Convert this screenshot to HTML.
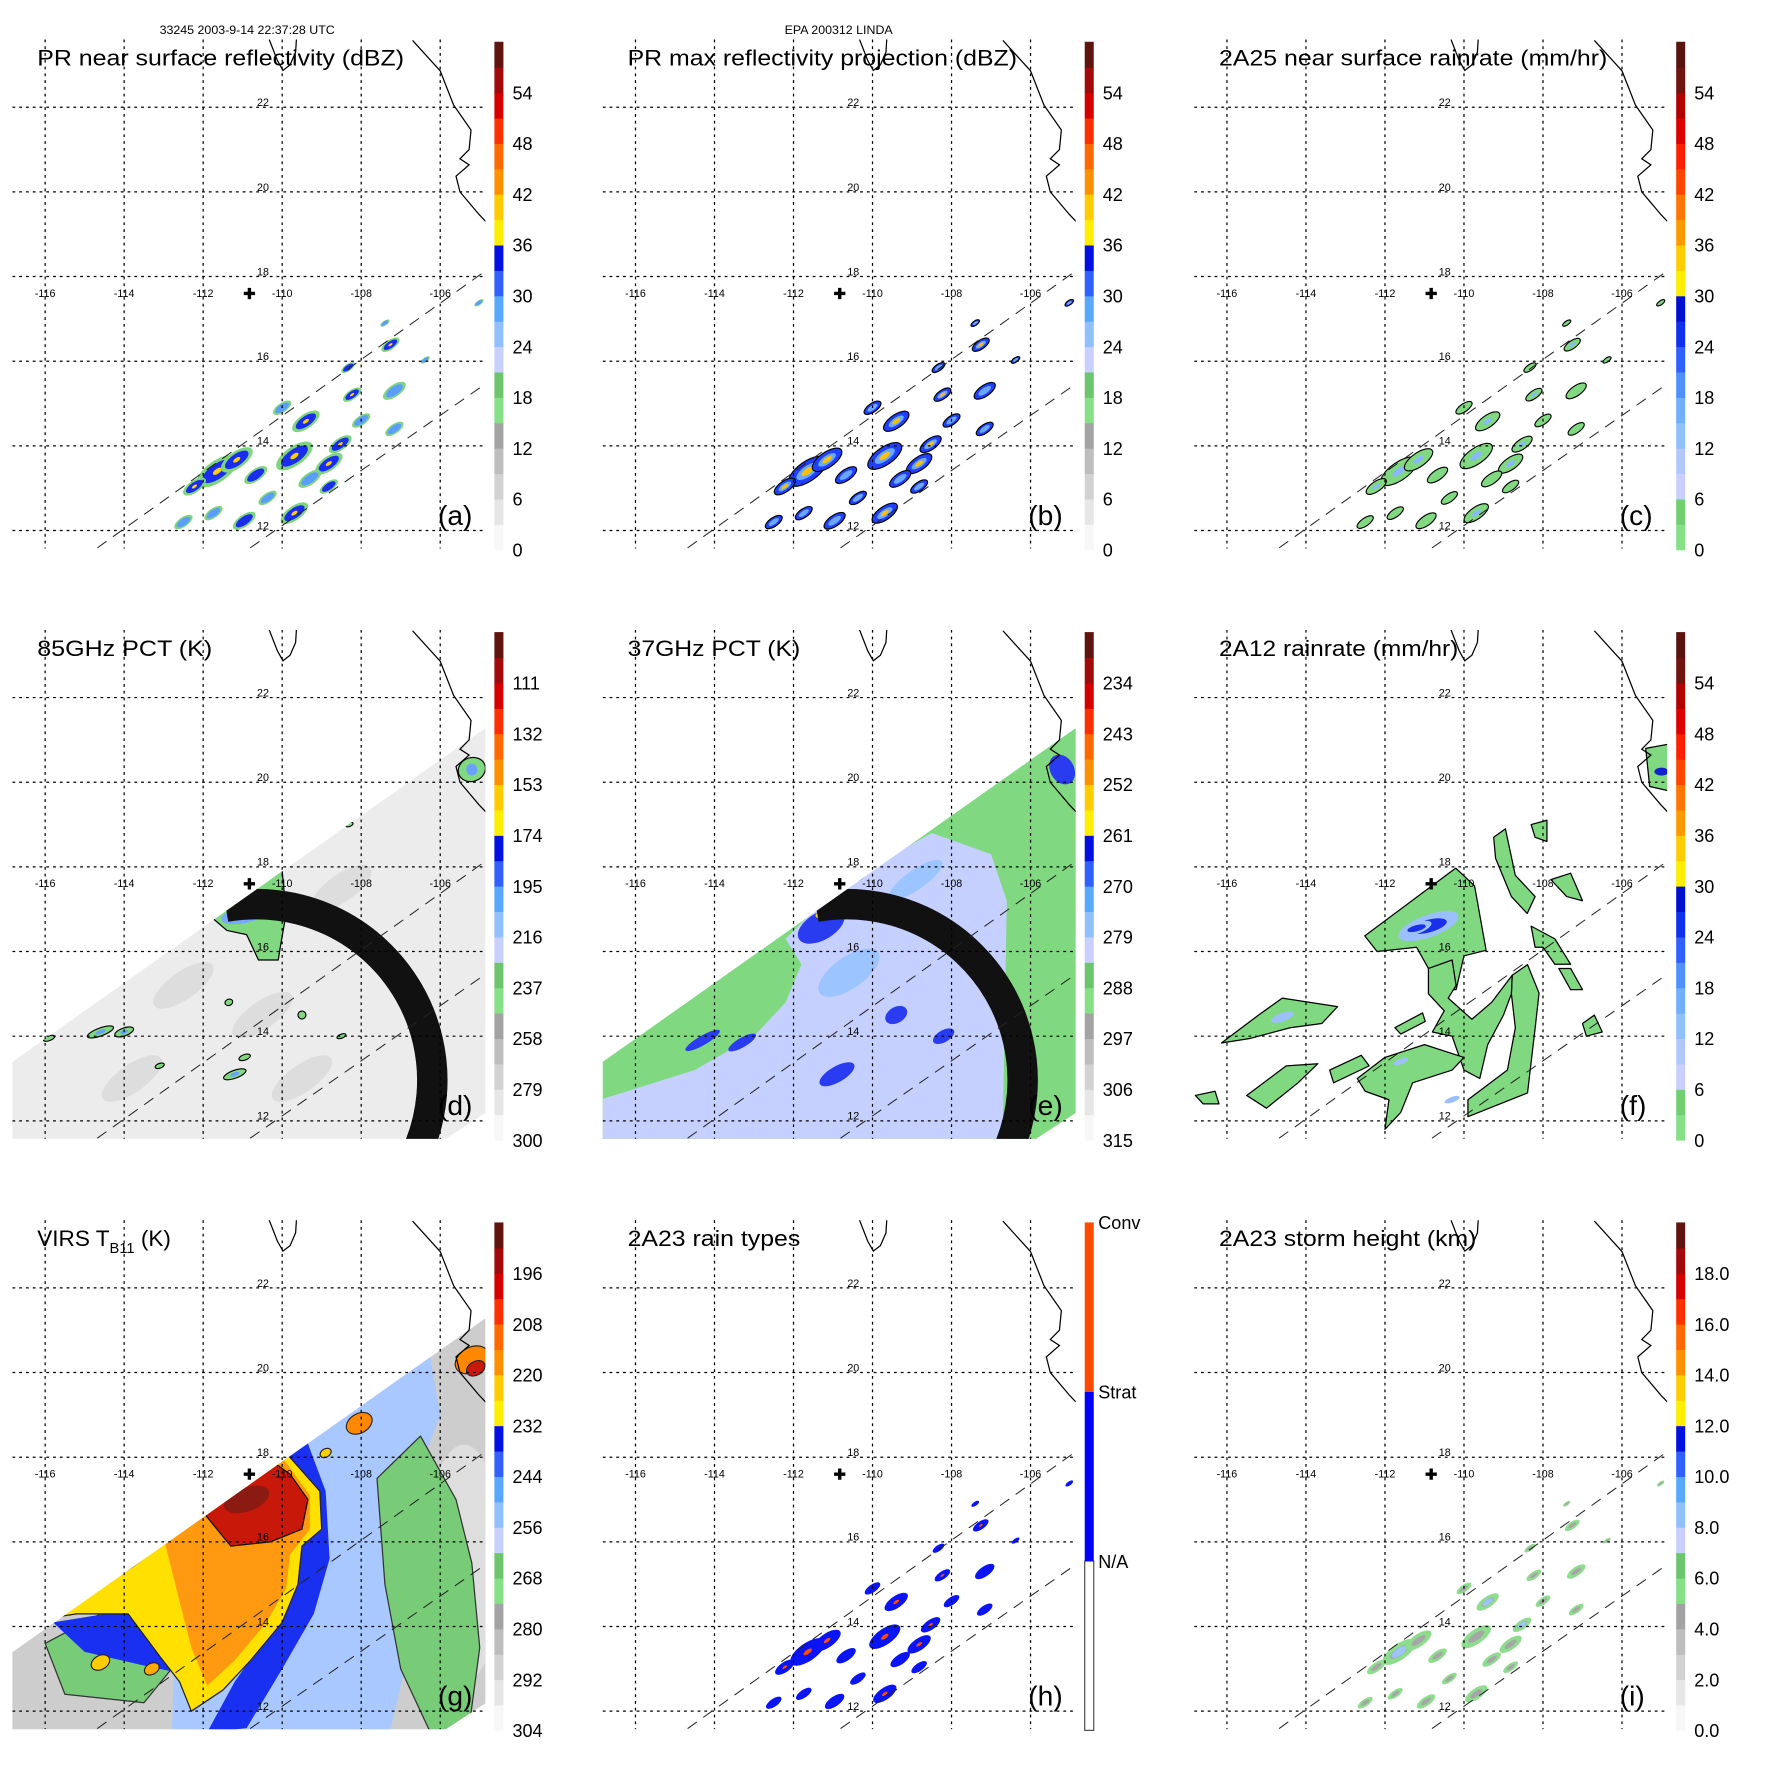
<!DOCTYPE html>
<html><head><meta charset="utf-8"><title>TRMM LINDA</title>
<style>html,body{margin:0;padding:0;background:#fff;}svg{display:block;font-family:"Liberation Sans",sans-serif;}</style>
</head><body>
<svg id="fig" width="1771" height="1771" viewBox="0 0 1569 1569" xmlns="http://www.w3.org/2000/svg">
<rect x="0" y="0" width="1569" height="1569" fill="#fff"/>
<defs>
<clipPath id="mapclip"><rect x="11" y="35" width="419" height="451"/></clipPath>
<clipPath id="swathclip"><polygon id="swathpoly" points=""/></clipPath>
</defs>
<text x="219" y="30" font-size="11" text-anchor="middle">33245 2003-9-14 22:37:28 UTC</text>
<text x="743" y="30" font-size="11" text-anchor="middle">EPA 200312 LINDA</text>
</svg>
<script>
const NS='http://www.w3.org/2000/svg';
const svg=document.getElementById('fig');
// ---------- data ----------
const lonTicks=[-116,-114,-112,-110,-108,-106];
const latTicks=[22,20,18,16,14,12];
const stormLon=-110.83, stormLat=17.6;
const coastLon=[-106.7,-106.0,-105.66,-105.22,-105.27,-105.5,-105.27,-105.6,-105.5,-105.02,-104.85];
const coastLat=[23.58,22.86,22.05,21.46,21.0,20.78,20.64,20.37,20.0,19.47,19.3];
const bajaLon=[-110.33,-110.12,-109.98,-109.8,-109.66,-109.64];
const bajaLat=[23.6,23.1,22.87,23.0,23.3,23.6];
const prEdge1Lon=[-114.68,-104.83], prEdge1Lat=[11.59,18.15];
const prEdge2Lon=[-110.81,-104.83], prEdge2Lat=[11.59,15.48];
const swathLon=[-116.9,-104.83,-104.83,-105.9,-116.9];
const swathLat=[13.35,21.3,12.2,11.55,11.55];
const cellLon=[-111.64,-111.15,-112.22,-110.67,-111.74,-110.96,-109.69,-109.40,-109.69,-108.53,-108.82,-109.30,-108.23,-108.33,-107.26,-107.16,-107.16,-108.82,-105.02,-106.38,-110.37,-112.5,-110.0,-108.0,-107.4];
const cellLat=[13.40,13.67,13.04,13.31,12.41,12.23,12.41,14.58,13.76,14.04,13.58,13.22,15.21,15.85,16.39,15.30,14.40,13.04,17.38,16.03,12.77,12.2,14.9,14.6,16.9];
const cellSize=[0.45,0.35,0.25,0.25,0.2,0.25,0.3,0.3,0.4,0.25,0.3,0.25,0.2,0.15,0.2,0.25,0.2,0.2,0.1,0.1,0.2,0.2,0.2,0.2,0.1];
const cellInt=[0.9,0.8,0.7,0.6,0.4,0.6,0.7,0.9,0.7,0.9,0.7,0.5,0.7,0.6,0.8,0.4,0.3,0.6,0.5,0.5,0.4,0.3,0.3,0.3,0.5];
const palStd=['#f7f7f7','#e6e6e6','#d2d2d2','#bdbdbd','#a3a3a3','#86e086','#6cc46c','#c8d0ff','#90c0ff','#58a8ff','#3060ff','#0010e0','#ffee00','#ffcc00','#ff9000','#ff6a00','#ff3000','#d40000','#a00a0a','#601410'];
const palRain=['#86e086','#70d070','#c8d0ff','#b0c8ff','#90c0ff','#70b0ff','#4f90ff','#3060ff','#1030f0','#0010d0','#ffee00','#ffcc00','#ff9900','#ff7700','#ff4400','#ff2000','#dd0000','#b00000','#701410','#5a1410'];
const labA=['0','6','12','18','24','30','36','42','48','54'];
const labD=['300','279','258','237','216','195','174','153','132','111'];
const labE=['315','306','297','288','279','270','261','252','243','234'];
const labG=['304','292','280','268','256','244','232','220','208','196'];
const labI=['0.0','2.0','4.0','6.0','8.0','10.0','12.0','14.0','16.0','18.0'];
const rainTypeLabels=['N/A','Strat','Conv'];
const rainTypeColors=['#ffffff','#0000ff','#ff4a00'];
const dGreenLon=[-111.9,-111.0,-110.4,-110.0,-109.9,-110.05,-110.1,-110.6,-110.9,-111.4];
const dGreenLat=[16.9,17.3,17.9,17.9,16.9,16.1,15.8,15.8,16.4,16.5];
const dBlobLon=[-114.6,-114.0,-115.9,-111.35,-109.5,-108.5,-111.2,-110.95,-113.1,-105.2,-108.3];
const dBlobLat=[14.1,14.1,13.95,14.8,14.5,14.0,13.1,13.5,13.3,20.3,19.0];
const dBlobRx=[0.35,0.25,0.15,0.1,0.1,0.12,0.3,0.15,0.12,0.35,0.1];
const dBlobRy=[0.1,0.1,0.06,0.08,0.1,0.05,0.1,0.07,0.06,0.3,0.05];
const dShadeLon=[-112.5,-109.5,-108.5,-113.8,-110.5];
const dShadeLat=[15.2,13.0,17.5,13.0,14.5];
const eLtLon=[-112.2,-110.8,-108.5,-107.0,-106.6,-106.7,-106.5,-116.9,-116.9,-114.5,-113.0,-112.2,-111.8];
const eLtLat=[16.3,17.6,18.8,18.3,17.2,12.0,11.5,11.5,12.5,13.2,14.0,14.8,15.7];
const eBlueLon=[-111.3,-114.3,-113.3,-110.9,-109.4,-108.2,-108.7,-110.4,-105.2];
const eBlueLat=[16.6,13.9,13.85,13.1,14.5,14.0,16.8,17.8,20.3];
const eBlueRx=[0.65,0.5,0.4,0.5,0.3,0.3,0.3,0.3,0.3];
const eBlueRy=[0.35,0.12,0.12,0.2,0.2,0.15,0.15,0.15,0.4];
const fPolys=[
 [-112.51,16.37,-110.21,17.97,-109.73,17.55,-109.44,16.03,-110.0,15.9,-110.2,15.1,-110.6,15.1,-110.9,15.6,-111.2,16.1,-112.2,16.0],
 [-108.78,15.44,-108.39,15.69,-108.1,15.02,-108.2,14.18,-108.39,12.66,-109.9,12.1,-109.9,12.5,-108.9,13.2,-108.7,14.2,-108.8,15.0],
 [-110.9,15.6,-110.3,15.8,-110.2,15.2,-110.4,14.9,-109.8,14.4,-109.3,14.8,-108.78,15.44,-108.8,15.0,-109.0,14.5,-109.4,13.8,-109.6,13.0,-110.0,13.2,-110.3,14.0,-110.8,14.1,-110.5,14.6,-110.9,15.0],
 [-112.7,13.0,-112.0,13.5,-111.0,13.8,-110.0,13.5,-110.3,13.2,-111.3,12.9,-111.6,12.2,-112.0,11.8,-111.9,12.5,-112.5,12.7],
 [-113.4,13.2,-112.6,13.55,-112.4,13.3,-113.3,12.9],
 [-115.5,12.6,-114.5,13.3,-113.7,13.35,-114.2,12.9,-115.0,12.3],
 [-116.14,13.84,-115.2,14.5,-114.6,14.9,-113.2,14.7,-113.6,14.3,-114.4,14.2,-115.4,13.95],
 [-111.75,14.2,-111.05,14.55,-110.98,14.35,-111.6,14.05],
 [-109.25,18.7,-108.95,18.9,-108.7,17.8,-108.2,17.3,-108.4,16.9,-108.8,17.3,-109.2,18.2],
 [-108.3,16.6,-107.7,16.3,-107.3,15.7,-107.7,15.7,-108.0,16.1,-108.2,16.1],
 [-107.8,17.7,-107.3,17.85,-107.0,17.2,-107.4,17.3],
 [-107.6,15.6,-107.3,15.6,-107.0,15.1,-107.3,15.1],
 [-116.8,12.6,-116.3,12.7,-116.2,12.4,-116.6,12.4],
 [-108.3,19.0,-107.9,19.1,-107.9,18.6,-108.2,18.7],
 [-107.0,14.3,-106.7,14.5,-106.5,14.1,-106.9,14.0],
 [-105.4,20.8,-104.83,20.9,-104.83,19.8,-105.3,19.9]
];
const fBlueLon=[-110.9,-111.2,-114.6,-111.6,-110.3];
const fBlueLat=[16.6,16.55,14.45,13.4,12.5];
const fBlueRx=[0.8,0.4,0.3,0.2,0.2];
const gLtBlueLon=[-112.6,-106.3,-106.0,-106.6,-106.9,-107.0,-106.9,-107.3,-112.8];
const gLtBlueLat=[16.4,20.6,19.0,17.5,16.0,14.5,13.0,11.4,11.4];
const gGreenLon=[-107.6,-106.5,-105.6,-105.2,-105.0,-105.3,-106.2,-107.0,-107.4];
const gGreenLat=[17.5,18.5,17.0,15.5,13.5,11.4,11.4,13.0,15.0];
const gGreen2Lon=[-116.0,-114.0,-112.8,-113.5,-115.5];
const gGreen2Lat=[13.6,14.6,13.0,12.2,12.4];
const gDkBlueLon=[-110.2,-109.5,-108.9,-108.8,-109.2,-110.0,-110.9,-111.9,-111.2,-110.3,-109.8,-109.6,-109.3];
const gDkBlueLat=[18.3,18.7,17.2,15.6,14.3,13.0,11.6,11.5,12.7,13.9,15.0,16.0,17.1];
const gBlue2Lon=[-115.8,-113.8,-112.9,-112.6,-113.6,-115.0];
const gBlue2Lat=[14.1,14.4,13.8,12.9,13.1,13.4];
const gYelLon=[-113.8,-109.9,-109.05,-109.0,-109.5,-109.6,-110.0,-110.8,-111.5,-112.3,-112.6,-113.1,-113.9,-115.2,-115.9];
const gYelLat=[15.4,18.1,17.2,16.3,15.9,15.0,14.1,13.2,12.5,12.0,12.7,13.3,14.3,14.3,14.2];
const gOrgLon=[-113.0,-110.0,-109.3,-109.3,-109.8,-109.9,-110.4,-111.2,-111.9,-112.3,-112.6];
const gOrgLat=[16.1,18.0,17.1,16.3,15.7,14.9,14.1,13.2,12.6,13.5,14.6];
const gRedLon=[-112.0,-110.4,-109.8,-109.35,-109.5,-110.3,-111.3];
const gRedLat=[16.7,18.0,17.6,17.0,16.3,16.0,15.9];
const gSpotLon=[-108.05,-108.9,-105.2,-105.1,-114.6,-113.3];
const gSpotLat=[18.8,18.1,20.3,20.1,13.15,13.0];
const gSpotR=[0.35,0.15,0.45,0.25,0.25,0.2];
const gSpotC=['#ff8800','#ffcc00','#ff8800','#c81a0a','#ffcc00','#ffaa00'];

const px=lon=>40+35*(lon+116);
const py=lat=>95+37.5*(22-lat);
function mk(tag,attrs,parent){const e=document.createElementNS(NS,tag);for(const k in attrs)e.setAttribute(k,attrs[k]);parent.appendChild(e);return e;}
function ptsOf(lons,lats){return lons.map((l,i)=>px(l).toFixed(1)+','+py(lats[i]).toFixed(1)).join(' ');}
function ptsFlat(a){let s=[];for(let i=0;i<a.length;i+=2)s.push(px(a[i]).toFixed(1)+','+py(a[i+1]).toFixed(1));return s.join(' ');}
document.getElementById('swathpoly').setAttribute('points',ptsOf(swathLon,swathLat));

const colX=[0,523,1047], rowY=[0,523,1046];
const panels=[
 {id:'a',title:'PR near surface reflectivity (dBZ)',tl:325},
 {id:'b',title:'PR max reflectivity projection (dBZ)',tl:345},
 {id:'c',title:'2A25 near surface rainrate (mm/hr)',tl:344},
 {id:'d',title:'85GHz PCT (K)',tl:155},
 {id:'e',title:'37GHz PCT (K)',tl:153},
 {id:'f',title:'2A12 rainrate (mm/hr)',tl:212},
 {id:'g',title:null,tl:0},
 {id:'h',title:'2A23 rain types',tl:153},
 {id:'i',title:'2A23 storm height (km)',tl:228}
];

function ell(g,lon,lat,rx,ry,ang,fill,stroke,name){
  const e=mk('ellipse',{cx:px(lon),cy:py(lat),rx:rx*35,ry:ry*35,fill:fill,transform:'rotate('+ang+' '+px(lon)+' '+py(lat)+')'},g);
  if(stroke){e.setAttribute('stroke',stroke);e.setAttribute('stroke-width','1');}
  
  
  return e;
}
function poly(g,pts,fill,stroke,name){
  const e=mk('polygon',{points:pts,fill:fill},g);
  if(stroke){e.setAttribute('stroke',stroke);e.setAttribute('stroke-width','1.1');e.setAttribute('stroke-linejoin','round');}
  
  
  return e;
}
function colorbar(g,colors,labels,name){
  const cb=mk('g',{},g);
  
  
  const top=37,bot=487,n=colors.length,h=(bot-top)/n;
  colors.forEach((c,i)=>{
    const r=mk('rect',{x:438,y:(bot-(i+1)*h).toFixed(2),width:8,height:(h+0.5).toFixed(2),fill:c},cb);
    
    
  });
  labels.forEach((t,k)=>{
    const y=bot-k*2*h;
    const tx=mk('text',{x:454,y:(y+6).toFixed(1),'font-size':16},cb);
    tx.textContent=t;
    
    
  });
}

panels.forEach((p,pi)=>{
  const G=mk('g',{transform:'translate('+colX[pi%3]+','+rowY[Math.floor(pi/3)]+')'},svg);
  
  
  const M=mk('g',{'clip-path':'url(#mapclip)'},G);
  
  
  const D=mk('g',{},M);
  
  

  if(p.id==='a'){
    cellLon.forEach((l,i)=>{
      ell(D,l,cellLat[i],cellSize[i]*1.35,cellSize[i]*0.6,-35,'#7fd47f',null,'rain-halo');
      ell(D,l,cellLat[i],cellSize[i],cellSize[i]*0.42,-35,cellInt[i]>0.5?'#1a2cf0':'#5a9cff',null,'rain-cell');
      if(cellInt[i]>0.6) ell(D,l,cellLat[i],cellSize[i]*0.3,cellSize[i]*0.14,-35,'#ffd000',null,'rain-core');
    });
  } else if(p.id==='b'){
    cellLon.forEach((l,i)=>{
      ell(D,l,cellLat[i],cellSize[i]*1.25,cellSize[i]*0.55,-35,'#2040ff','#000','echo-cell');
      ell(D,l,cellLat[i],cellSize[i]*0.75,cellSize[i]*0.3,-35,'#6aa8ff',null,'echo-inner');
      if(cellInt[i]>0.65) ell(D,l,cellLat[i],cellSize[i]*0.4,cellSize[i]*0.16,-35,'#ffc000',null,'echo-core');
    });
  } else if(p.id==='c'){
    cellLon.forEach((l,i)=>{
      ell(D,l,cellLat[i],cellSize[i]*1.2,cellSize[i]*0.5,-35,'#80d880','#000','rainrate-cell');
      if(cellInt[i]>0.6) ell(D,l,cellLat[i],cellSize[i]*0.45,cellSize[i]*0.18,-35,'#8ab8ff',null,'rainrate-core');
    });
  } else if(p.id==='h'){
    cellLon.forEach((l,i)=>{
      ell(D,l,cellLat[i],cellSize[i]*1.15,cellSize[i]*0.5,-35,'#0a14f5',null,'raintype-cell');
      if(cellInt[i]>0.6) ell(D,l,cellLat[i],cellSize[i]*0.28,cellSize[i]*0.12,-35,'#ff4a00',null,'convective-spot');
    });
  } else if(p.id==='i'){
    cellLon.forEach((l,i)=>{
      ell(D,l,cellLat[i],cellSize[i]*1.1,cellSize[i]*0.45,-35,'#8edc8e',null,'height-cell');
      ell(D,l,cellLat[i],cellSize[i]*0.6,cellSize[i]*0.22,-35,'#a6a6a6',null,'height-low');
      if(cellInt[i]>0.8) ell(D,l,cellLat[i],cellSize[i]*0.5,cellSize[i]*0.2,-35,'#9cc4ff',null,'height-high');
    });
  } else if(p.id==='d' || p.id==='e' || p.id==='g'){
    const S=mk('g',{'clip-path':'url(#swathclip)'},D);
    
    
    if(p.id==='d'){
      poly(S,ptsOf(swathLon,swathLat),'#ececec',null,'swath-background');
      dShadeLon.forEach((l,i)=>ell(S,l,dShadeLat[i],0.9,0.35,-35,'#dddddd',null,'pct-shade'));
      poly(S,ptsOf(dGreenLon,dGreenLat),'#80d880','#000','pct-cell-main');
      ell(S,-111.0,16.85,0.55,0.2,-10,'#78a8ff',null,'pct-scatter');
      ell(S,-111.1,16.9,0.3,0.1,-10,'#2040ff',null,'pct-scatter-core');
      ell(S,-111.05,16.95,0.12,0.06,0,'#ff6a00',null,'pct-min');
      dBlobLon.forEach((l,i)=>{
        ell(S,l,dBlobLat[i],dBlobRx[i],dBlobRy[i],-20,'#80d880','#000','pct-cell');
        if(dBlobRx[i]>0.2) ell(S,l,dBlobLat[i],dBlobRx[i]*0.4,dBlobRy[i]*0.5,-20,'#6aa0ff',null,'pct-cell-core');
      });
    } else if(p.id==='e'){
      poly(S,ptsOf(swathLon,swathLat),'#80d880',null,'swath-background');
      poly(S,ptsOf(eLtLon,eLtLat),'#c6d0ff',null,'pct-light-region');
      ell(S,-110.6,15.5,0.9,0.4,-35,'#9cc4ff',null,'pct-mid-region');
      ell(S,-108.9,17.7,0.8,0.25,-35,'#9cc4ff',null,'pct-mid-region');
      eBlueLon.forEach((l,i)=>ell(S,l,eBlueLat[i],eBlueRx[i],eBlueRy[i],-30,'#2a3cf0',null,'pct-blue-cell'));
      ell(S,-111.1,16.9,0.35,0.12,-10,'#ffdd00',null,'pct-yellow');
      ell(S,-111.05,16.92,0.18,0.07,-10,'#ff5000',null,'pct-red');
    } else {
      poly(S,ptsOf(swathLon,swathLat),'#cdcdcd',null,'swath-background');
      ell(S,-105.4,15.5,1.0,3.0,0,'#dedede',null,'warm-region');
      poly(S,ptsOf(gLtBlueLon,gLtBlueLat),'#a8c8ff',null,'tb-lightblue');
      poly(S,ptsOf(gGreenLon,gGreenLat),'#78cc78','#333','tb-green');
      poly(S,ptsOf(gGreen2Lon,gGreen2Lat),'#78cc78','#333','tb-green-left');
      poly(S,ptsOf(gDkBlueLon,gDkBlueLat),'#1a30f0',null,'tb-blue');
      poly(S,ptsOf(gBlue2Lon,gBlue2Lat),'#1a30f0',null,'tb-blue-left');
      poly(S,ptsOf(gYelLon,gYelLat),'#ffe000','#222','tb-yellow');
      poly(S,ptsOf(gOrgLon,gOrgLat),'#ff9a10',null,'tb-orange');
      poly(S,ptsOf(gRedLon,gRedLat),'#c8180a','#111','tb-red-core');
      ell(S,-110.9,17.0,0.6,0.3,-20,'#8a1a12',null,'tb-coldest');
      gSpotLon.forEach((l,i)=>ell(S,l,gSpotLat[i],gSpotR[i],gSpotR[i]*0.7,-30,gSpotC[i],'#222','tb-spot'));
    }
    if(p.id!=='g'){
      const cx=227,cy=434,r=156;
      const a0=-100*Math.PI/180,a1=40*Math.PI/180;
      const arc=mk('path',{d:'M'+(cx+r*Math.cos(a0))+','+(cy+r*Math.sin(a0))+' A'+r+','+r+' 0 0 1 '+(cx+r*Math.cos(a1))+','+(cy+r*Math.sin(a1)),fill:'none',stroke:'#111','stroke-width':27},S);
      
      
    }
  } else if(p.id==='f'){
    fPolys.forEach(a=>poly(D,ptsFlat(a),'#80d880','#000','rainrate-region'));
    fBlueLon.forEach((l,i)=>{
      ell(D,l,fBlueLat[i],fBlueRx[i],fBlueRx[i]*0.35,-20,'#9cc0ff',null,'rainrate-moderate');
      if(i<2) ell(D,l,fBlueLat[i],fBlueRx[i]*0.6,fBlueRx[i]*0.2,-15,'#1a30e8',null,'rainrate-heavy');
    });
    ell(D,-105.0,20.25,0.18,0.1,0,'#1020d0',null,'rainrate-coast');
  }

  const GR=mk('g',{stroke:'#000','stroke-width':1.1,'stroke-dasharray':'2.5 3.5'},M);
  
  
  lonTicks.forEach(l=>{
    const ln=mk('line',{x1:px(l),x2:px(l),y1:35,y2:486},GR);
    
    
  });
  latTicks.forEach(l=>{
    const ln=mk('line',{x1:11,x2:430,y1:py(l),y2:py(l)},GR);
    
    
  });
  [[prEdge1Lon,prEdge1Lat],[prEdge2Lon,prEdge2Lat]].forEach(e=>{
    const ln=mk('line',{x1:px(e[0][0]),y1:py(e[1][0]),x2:px(e[0][1]),y2:py(e[1][1]),stroke:'#222','stroke-width':0.9,'stroke-dasharray':'10 7'},M);
    
    
  });
  const c1=mk('polyline',{points:ptsOf(coastLon,coastLat),fill:'none',stroke:'#000','stroke-width':1.1},M);
  
  
  const c2=mk('polyline',{points:ptsOf(bajaLon,bajaLat),fill:'none',stroke:'#000','stroke-width':1.1},M);
  
  
  lonTicks.forEach(l=>{
    const t=mk('text',{x:px(l),y:263,'font-size':9.5,'text-anchor':'middle'},G);
    t.textContent=String(l);
    
    
  });
  latTicks.forEach(l=>{
    const t=mk('text',{x:233,y:py(l)-1,'font-size':9.5,'text-anchor':'middle'},G);
    t.textContent=String(l);
    
    
  });
  const cr=mk('path',{d:'M'+(px(stormLon)-5)+','+py(stormLat)+' h10 M'+px(stormLon)+','+(py(stormLat)-5)+' v10',stroke:'#000','stroke-width':3},G);
  
  
  const tt=mk('text',{x:33,y:58,'font-size':20},G);
  if(p.title){tt.textContent=p.title;tt.setAttribute('textLength',p.tl);tt.setAttribute('lengthAdjust','spacingAndGlyphs');}
  else{
    const a=mk('tspan',{},tt);a.textContent='VIRS T';
    const b=mk('tspan',{'font-size':13,dy:6},tt);b.textContent='B11';
    const c=mk('tspan',{dy:-6},tt);c.textContent=' (K)';
  }
  
  
  const lt=mk('text',{x:388,y:465,'font-size':25},G);
  lt.textContent='('+p.id+')';
  
  
  if(p.id==='a'||p.id==='b') colorbar(G,palStd,labA,'colorbar');
  else if(p.id==='c'||p.id==='f') colorbar(G,palRain,labA,'colorbar');
  else if(p.id==='d') colorbar(G,palStd,labD,'colorbar');
  else if(p.id==='e') colorbar(G,palStd,labE,'colorbar');
  else if(p.id==='g') colorbar(G,palStd,labG,'colorbar');
  else if(p.id==='i') colorbar(G,palStd,labI,'colorbar');
  else {
    const cb=mk('g',{},G);
    
    
    rainTypeColors.forEach((c,i)=>{
      const r=mk('rect',{x:438,y:487-(i+1)*150,width:8,height:150,fill:c,stroke:i===0?'#444':'none','stroke-width':1},cb);
      
      
    });
    rainTypeLabels.forEach((t,i)=>{
      const tx=mk('text',{x:450,y:487-(i+1)*150+6,'font-size':16},cb);
      tx.textContent=t;
      
      
    });
  }
});
</script>
</body></html>
